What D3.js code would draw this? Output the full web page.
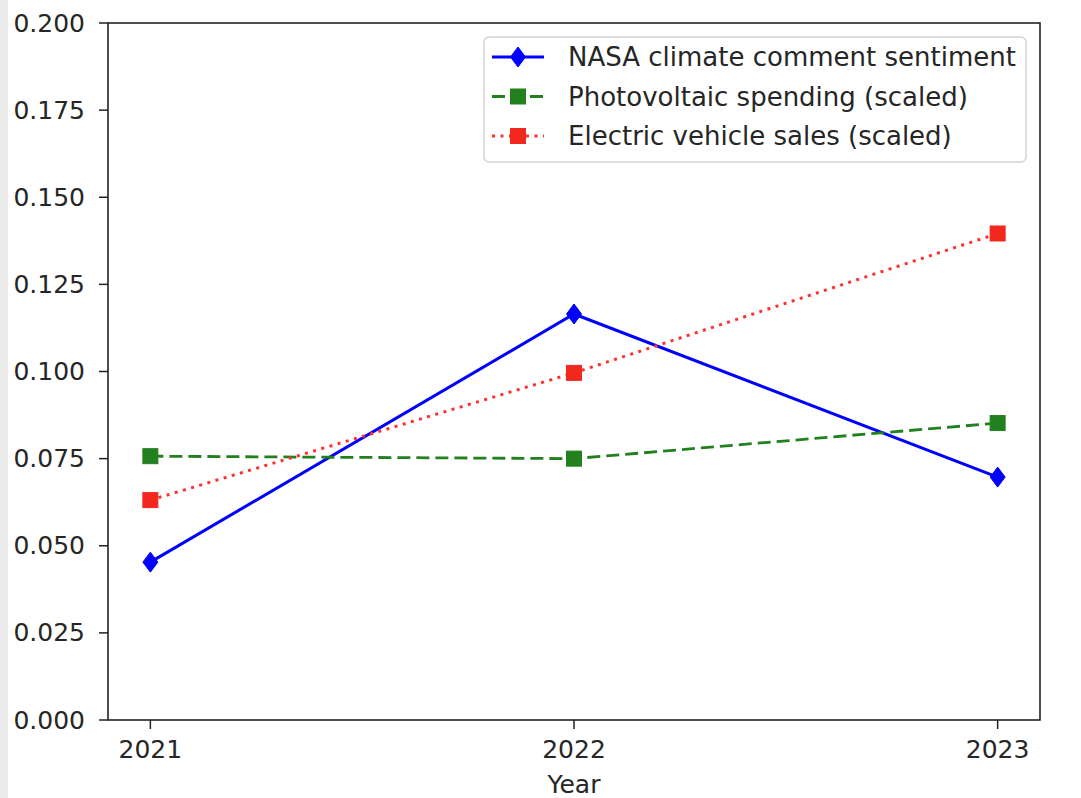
<!DOCTYPE html>
<html>
<head>
<meta charset="utf-8">
<script src="https://cdn.jsdelivr.net/npm/d3@7"></script>
<style>
  html, body { margin: 0; padding: 0; background: #ffffff; }
  svg { display: block; }
  text { font-family: "DejaVu Sans", sans-serif; fill: #262626; }
</style>
</head>
<body>
<script>
// Years on the x axis
const years = [2021, 2022, 2023];

// Series values
const nasaSentiment = [0.0453, 0.1165, 0.0697];
const pvSpending = [0.0757, 0.0750, 0.0852];
const evSales = [0.0631, 0.0996, 0.1396];

// Axis ticks
const yTicks = [0, 0.025, 0.05, 0.075, 0.1, 0.125, 0.15, 0.175, 0.2];
const xTicks = years;

// Legend labels
const seriesNames = [
  "NASA climate comment sentiment",
  "Photovoltaic spending (scaled)",
  "Electric vehicle sales (scaled)"
];

const W = 1081, H = 798;
const plot = { left: 108, right: 1040, top: 23, bottom: 720 };
const tickFont = 25;
const legendFont = 26;

const svg = d3.select("body").append("svg")
  .attr("width", W).attr("height", H);

// light gray strip on the left edge
svg.append("rect").attr("x", 0).attr("y", 0).attr("width", 8).attr("height", H)
  .attr("fill", "#ebebeb");

const x = d3.scaleLinear().domain([2020.9, 2023.1]).range([plot.left, plot.right]);
const y = d3.scaleLinear().domain([0, 0.2]).range([plot.bottom, plot.top]);

const series = [
  { name: seriesNames[0], values: nasaSentiment, color: "#0000ff", dash: null, marker: "diamond", width: 3 },
  { name: seriesNames[1], values: pvSpending, color: "#22801f", dash: "13,6", marker: "square", width: 2.8 },
  { name: seriesNames[2], values: evSales, color: "#f2281e", lineColor: "#ff3030", dash: "3,5.5", marker: "square", width: 3 }
];

const line = d3.line().x((d, i) => x(years[i])).y(d => y(d));

function drawMarker(g, type, cx, cy, color) {
  if (type === "diamond") {
    g.append("path")
      .attr("d", `M${cx},${cy - 10} L${cx + 7.5},${cy} L${cx},${cy + 10} L${cx - 7.5},${cy} Z`)
      .attr("fill", color).attr("stroke", color).attr("stroke-width", 1);
  } else {
    g.append("rect")
      .attr("x", cx - 7.5).attr("y", cy - 7.5).attr("width", 15).attr("height", 15)
      .attr("fill", color).attr("stroke", color).attr("stroke-width", 1);
  }
}

const lines = svg.append("g");
series.forEach(s => {
  lines.append("path")
    .datum(s.values)
    .attr("d", line)
    .attr("fill", "none")
    .attr("stroke", s.lineColor || s.color)
    .attr("stroke-width", s.width)
    .attr("stroke-dasharray", s.dash);
  s.values.forEach((v, i) => drawMarker(lines, s.marker, x(years[i]), y(v), s.color));
});

// frame
svg.append("rect")
  .attr("x", plot.left).attr("y", plot.top)
  .attr("width", plot.right - plot.left).attr("height", plot.bottom - plot.top)
  .attr("fill", "none").attr("stroke", "#222").attr("stroke-width", 1.6);

// y axis
const yAxis = svg.append("g");
yTicks.forEach(t => {
  yAxis.append("line")
    .attr("x1", plot.left - 9).attr("x2", plot.left)
    .attr("y1", y(t)).attr("y2", y(t))
    .attr("stroke", "#222").attr("stroke-width", 1.5);
  yAxis.append("text")
    .attr("x", plot.left - 23).attr("y", y(t))
    .attr("text-anchor", "end").attr("dominant-baseline", "central")
    .attr("font-size", tickFont)
    .text(d3.format(".3f")(t));
});

// x axis
const xAxis = svg.append("g");
xTicks.forEach(t => {
  xAxis.append("line")
    .attr("x1", x(t)).attr("x2", x(t))
    .attr("y1", plot.bottom).attr("y2", plot.bottom + 9)
    .attr("stroke", "#222").attr("stroke-width", 1.5);
  xAxis.append("text")
    .attr("x", x(t)).attr("y", 749)
    .attr("text-anchor", "middle").attr("dominant-baseline", "central")
    .attr("font-size", tickFont)
    .text(t);
});
svg.append("text")
  .attr("x", (plot.left + plot.right) / 2).attr("y", 784)
  .attr("text-anchor", "middle").attr("dominant-baseline", "central")
  .attr("font-size", tickFont)
  .text("Year");

// legend
const legend = svg.append("g");
legend.append("rect")
  .attr("x", 484).attr("y", 37).attr("width", 542).attr("height", 125)
  .attr("rx", 5).attr("fill", "#ffffff").attr("fill-opacity", 0.85)
  .attr("stroke", "#d4d4d4").attr("stroke-width", 1.5);
series.forEach((s, i) => {
  const cy = 57 + i * 39.5;
  legend.append("line")
    .attr("x1", 492).attr("x2", 544).attr("y1", cy).attr("y2", cy)
    .attr("stroke", s.lineColor || s.color).attr("stroke-width", s.width)
    .attr("stroke-dasharray", s.dash);
  drawMarker(legend, s.marker, 518, cy, s.color);
  legend.append("text")
    .attr("x", 568).attr("y", cy)
    .attr("dominant-baseline", "central")
    .attr("font-size", legendFont)
    .text(s.name);
});
</script>
</body>
</html>
